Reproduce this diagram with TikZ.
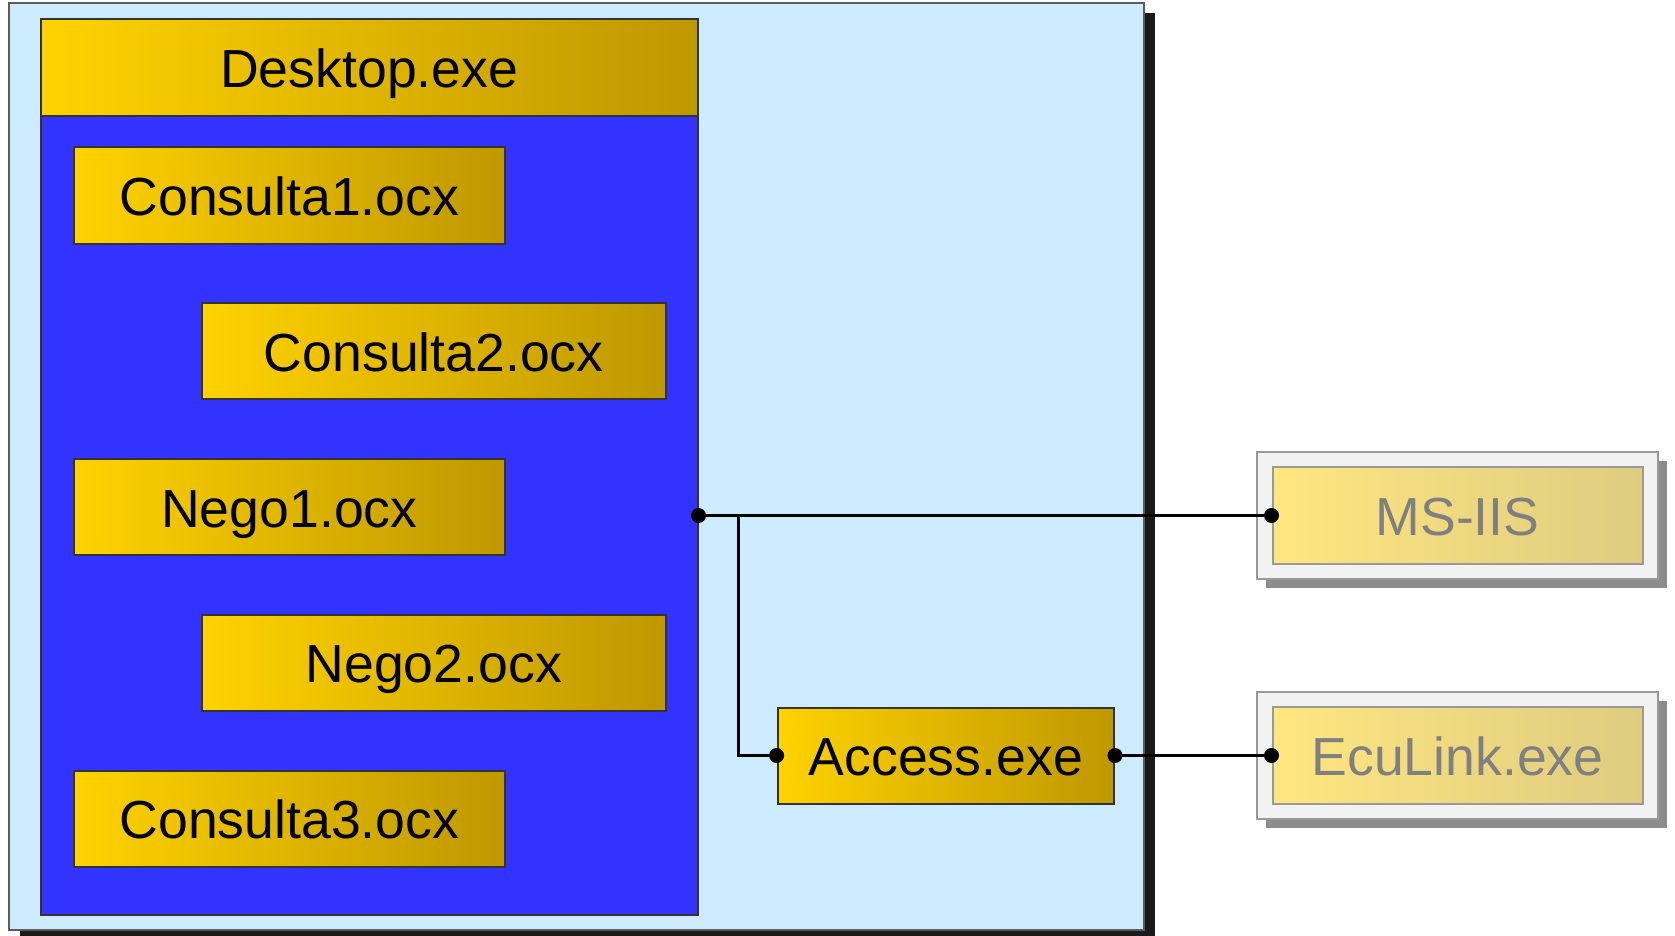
\documentclass[tikz,border=0pt]{standalone}
\usepackage{fontspec}
\setmainfont{Liberation Sans}
\usetikzlibrary{shadows}
\definecolor{lightblue}{RGB}{204,235,255}
\definecolor{bodyblue}{RGB}{51,51,255}
\definecolor{goldL}{RGB}{255,210,0}
\definecolor{goldR}{RGB}{190,152,0}
\definecolor{paleL}{RGB}{255,230,128}
\definecolor{paleR}{RGB}{222,204,128}
\definecolor{edge}{RGB}{51,51,51}
\definecolor{darkshadow}{RGB}{26,26,26}
\definecolor{grayshadow}{RGB}{140,140,140}
\definecolor{paleframe}{RGB}{242,242,242}
\definecolor{paleedge}{RGB}{153,153,153}
\definecolor{paletext}{RGB}{128,128,128}
\tikzset{
  lbl/.style={font=\fontsize{53.6pt}{60pt}\selectfont, text height=39.5pt, text depth=0pt},
  goldbox/.style={lbl, draw=edge, line width=2pt, left color=goldL, right color=goldR, inner sep=0pt, text=black},
  palebox/.style={lbl, draw=paleedge, line width=2pt, left color=paleL, right color=paleR, inner sep=0pt, text=paletext},
  paleouter/.style={draw=paleedge, line width=2pt, fill=paleframe, inner sep=0pt,
     general shadow={fill=grayshadow, shadow xshift=9pt, shadow yshift=-9pt}},
  conn/.style={line width=3pt, black},
  dotmark/.style={circle, fill=black, inner sep=0pt, minimum size=15pt},
}
\begin{document}
\begin{tikzpicture}[x=1pt,y=-1pt]
\useasboundingbox (0,0) rectangle (1675,936);
% outer container
\node[draw=edge!80, line width=1.5pt, fill=lightblue, minimum width=1135pt, minimum height=927pt, inner sep=0pt,
  general shadow={fill=darkshadow, shadow xshift=11pt, shadow yshift=-10pt}] (outer) at (576.5,466.5) {};
% blue body and header
\node[draw=edge, line width=2pt, fill=bodyblue, minimum width=656.5pt, minimum height=799pt, inner sep=0pt] (body) at (369.25,515.5) {};
\node[goldbox, minimum width=656.5pt, minimum height=97pt] (desktop) at (369.25,67.5) {Desktop.exe};
% components
\node[goldbox, minimum width=431pt, minimum height=96pt] (c1) at (289.4,195.5) {Consulta1.ocx};
\node[goldbox, minimum width=463.5pt, minimum height=96pt] (c2) at (433.75,351.25) {Consulta2.ocx};
\node[goldbox, minimum width=431pt, minimum height=96pt] (n1) at (289.4,507.25) {Nego1.ocx};
\node[goldbox, minimum width=463.5pt, minimum height=96pt] (n2) at (433.75,663) {Nego2.ocx};
\node[goldbox, minimum width=431pt, minimum height=96pt] (c3) at (289.4,819) {Consulta3.ocx};
\node[goldbox, minimum width=336.4pt, minimum height=96pt] (access) at (945.8,755.5) {Access.exe};
% external servers
\node[paleouter, minimum width=401pt, minimum height=127pt] (msiisout) at (1457.5,515.5) {};
\node[palebox, minimum width=370pt, minimum height=97pt] (msiis) at (1457.5,515.5) {MS-IIS};
\node[paleouter, minimum width=401pt, minimum height=127pt] (eculout) at (1457.5,755.5) {};
\node[palebox, minimum width=370pt, minimum height=97pt] (ecul) at (1457.5,755.5) {EcuLink.exe};
% connectors
\coordinate (branch) at (738.5,515.5);
\draw[conn] (body.east) -- (msiis.west);
\draw[conn] (branch) |- (access.west);
\draw[conn] (access.east) -- (ecul.west);
\node[dotmark] (d1) at (body.east) {};
\node[dotmark] (d2) at (msiis.west) {};
\node[dotmark] (d3) at (access.west) {};
\node[dotmark] (d4) at (access.east) {};
\node[dotmark] (d5) at (ecul.west) {};
\end{tikzpicture}
\end{document}
